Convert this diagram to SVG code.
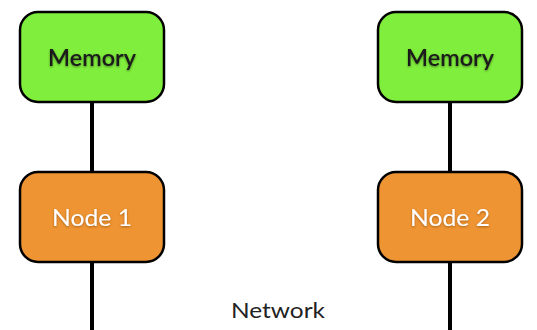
<svg xmlns="http://www.w3.org/2000/svg" width="537" height="330" viewBox="0 0 537 330">
  <style>
    .wire { stroke: #000; stroke-width: 4; fill: none; }
    .box { stroke: #000; stroke-width: 2.5; }
    .mem { fill: #80ee3c; }
    .cpu { fill: #ee9432; }
    .lbl { font-family: "Lato", "Open Sans", "Liberation Sans", sans-serif; font-size: 23px; text-anchor: middle; }
    .mem-t { fill: #1a1a1a; font-weight: 600; filter: url(#glow); }
    .cpu-t { fill: #ffffff; filter: url(#shade); }
    .net { font-family: "Lato", "Open Sans", "Liberation Sans", sans-serif; font-size: 22px; fill: #222; text-anchor: middle; }
  </style>
  <defs>
    <filter id="glow" x="-20%" y="-40%" width="140%" height="180%">
      <feGaussianBlur in="SourceAlpha" stdDeviation="1.2" result="b"/>
      <feOffset dy="1" result="o"/>
      <feFlood flood-color="#000" flood-opacity="0.45"/>
      <feComposite in2="o" operator="in" result="s"/>
      <feMerge><feMergeNode in="s"/><feMergeNode in="SourceGraphic"/></feMerge>
    </filter>
    <filter id="shade" x="-20%" y="-40%" width="140%" height="180%">
      <feGaussianBlur in="SourceAlpha" stdDeviation="1" result="b"/>
      <feOffset dy="1.2" result="o"/>
      <feFlood flood-color="#7a3d00" flood-opacity="0.6"/>
      <feComposite in2="o" operator="in" result="s"/>
      <feMerge><feMergeNode in="s"/><feMergeNode in="SourceGraphic"/></feMerge>
    </filter>
  </defs>

  <g id="connectors">
    <line class="wire" x1="92" y1="102" x2="92" y2="172"/>
    <line class="wire" x1="92" y1="262" x2="92" y2="330"/>
    <line class="wire" x1="450" y1="102" x2="450" y2="172"/>
    <line class="wire" x1="450" y1="262" x2="450" y2="330"/>
  </g>

  <g id="memory1">
    <rect class="box mem" x="20" y="12" width="144" height="90" rx="18"/>
    <text class="lbl mem-t" x="92" y="66" textLength="88" lengthAdjust="spacingAndGlyphs">Memory</text>
  </g>
  <g id="node1">
    <rect class="box cpu" x="20" y="172" width="144" height="90" rx="18"/>
    <text class="lbl cpu-t" x="92" y="226" textLength="80" lengthAdjust="spacingAndGlyphs">Node 1</text>
  </g>
  <g id="memory2">
    <rect class="box mem" x="378" y="12" width="144" height="90" rx="18"/>
    <text class="lbl mem-t" x="450" y="66" textLength="88" lengthAdjust="spacingAndGlyphs">Memory</text>
  </g>
  <g id="node2">
    <rect class="box cpu" x="378" y="172" width="144" height="90" rx="18"/>
    <text class="lbl cpu-t" x="450" y="226" textLength="80" lengthAdjust="spacingAndGlyphs">Node 2</text>
  </g>

  <g id="network">
    <text class="net" x="278" y="318" textLength="94" lengthAdjust="spacingAndGlyphs">Network</text>
  </g>
</svg>
